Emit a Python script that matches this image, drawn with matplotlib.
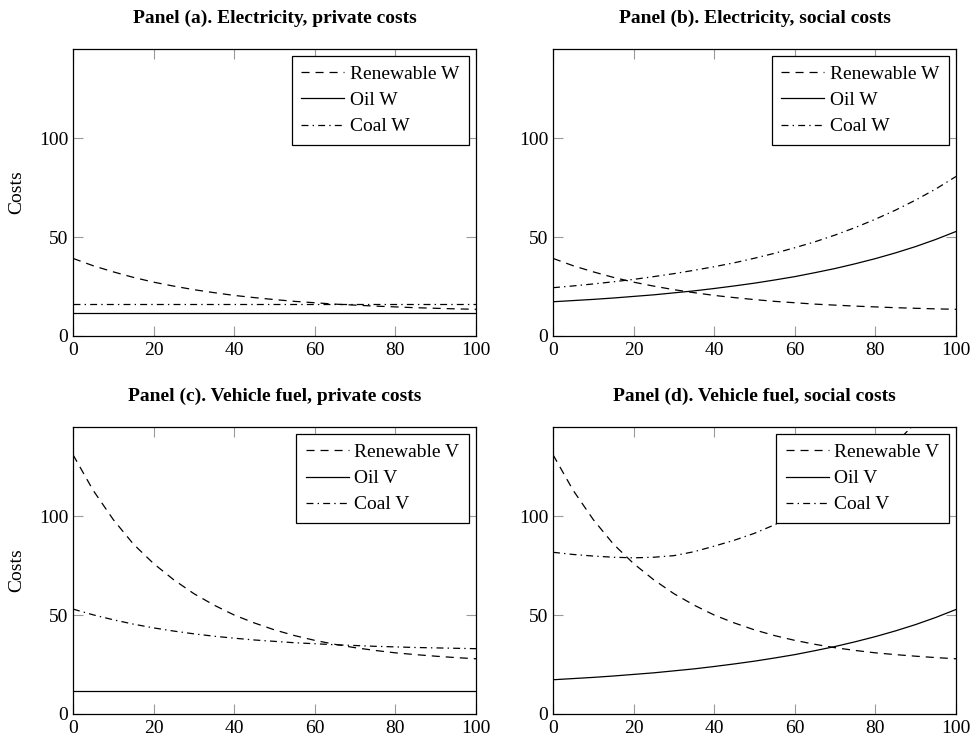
import matplotlib
matplotlib.use("Agg")
import matplotlib.pyplot as plt

plt.rcParams['font.family'] = ['Liberation Serif', 'DejaVu Serif']
plt.rcParams['lines.scale_dashes'] = False

# ---- data ----
x = [0, 5, 10, 15, 20, 25, 30, 35, 40, 45, 50, 55, 60, 65, 70, 75, 80, 85, 90, 95, 100]

renewable_w = [39.2, 35.5, 32.4, 29.6, 27.2, 25.2, 23.4, 21.9, 20.5, 19.4, 18.4,
               17.5, 16.8, 16.1, 15.6, 15.1, 14.7, 14.3, 14.0, 13.7, 13.5]
oil_w_private = [11.8] * 21
coal_w_private = [16.0] * 21
oil_social = [17.3, 17.9, 18.5, 19.2, 20.0, 20.8, 21.8, 22.8, 24.0, 25.3, 26.7,
              28.3, 30.0, 32.0, 34.1, 36.5, 39.1, 42.0, 45.2, 48.8, 52.8]
coal_w_social = [24.4, 25.3, 26.3, 27.4, 28.6, 30.0, 31.5, 33.2, 35.0, 37.0, 39.3,
                 41.8, 44.6, 47.6, 51.0, 54.8, 59.0, 63.6, 68.7, 74.3, 80.6]

renewable_v = [131.0, 113.0, 98.2, 85.8, 76.0, 67.8, 60.8, 55.0, 50.0, 46.0, 42.5,
               39.6, 37.2, 35.2, 33.5, 32.1, 30.9, 30.0, 29.2, 28.5, 27.9]
oil_v_private = [11.7] * 21
coal_v_private = [53.0, 50.1, 47.6, 45.4, 43.5, 41.9, 40.5, 39.3, 38.3, 37.4, 36.7,
                  36.0, 35.5, 35.0, 34.6, 34.2, 33.9, 33.6, 33.4, 33.2, 33.0]
coal_v_social = [81.7, 80.6, 79.8, 79.2, 78.9, 79.2, 80.0, 82.0, 84.8, 87.8, 91.3,
                 95.6, 100.6, 106.2, 112.4, 119.5, 127.5, 136.8, 147.2, 158.8, 171.5]

titles = ["Panel (a). Electricity, private costs",
          "Panel (b). Electricity, social costs",
          "Panel (c). Vehicle fuel, private costs",
          "Panel (d). Vehicle fuel, social costs"]
xticks = [0, 20, 40, 60, 80, 100]
yticks = [0, 50, 100]

panels = [
    (["Renewable W", "Oil W", "Coal W"], [renewable_w, oil_w_private, coal_w_private]),
    (["Renewable W", "Oil W", "Coal W"], [renewable_w, oil_social, coal_w_social]),
    (["Renewable V", "Oil V", "Coal V"], [renewable_v, oil_v_private, coal_v_private]),
    (["Renewable V", "Oil V", "Coal V"], [renewable_v, oil_social, coal_v_social]),
]

styles = [(0, (5.8, 4.3)), '-', (0, (5.0, 3.0, 1.0, 3.0))]

W, H = 973, 739
fig = plt.figure(figsize=(W / 100, H / 100), dpi=100)

boxes = [(73, 49, 476, 336), (553, 49, 956, 336),
         (73, 427, 476, 714), (553, 427, 956, 714)]

FS = 14
for i, (box, (labels, series)) in enumerate(zip(boxes, panels)):
    l, t, r, b = box
    ax = fig.add_axes([l / W, (H - b) / H, (r - l) / W, (b - t) / H])
    for lab, ys, ls in zip(labels, series, styles):
        ax.plot(x, ys, color='black', linestyle=ls, linewidth=0.9, label=lab)
    ax.set_xlim(0, 100)
    ax.set_ylim(0, 145)
    ax.set_xticks(xticks)
    ax.set_yticks(yticks)
    ax.tick_params(direction='in', top=True, right=True, length=7, width=0.8,
                   color='#9a9a9a', labelsize=FS, labelcolor='black')
    ax.tick_params(axis='y', pad=3.5)
    ax.tick_params(axis='x', pad=4)
    for s in ax.spines.values():
        s.set_linewidth(0.9)
        s.set_color('black')
    ax.set_title(titles[i], fontsize=FS, fontweight='bold', pad=19)
    if i % 2 == 0:
        ax.set_ylabel("Costs", fontsize=FS, labelpad=10)
    leg = ax.legend(loc='upper right', fontsize=FS, frameon=True, fancybox=False,
                    edgecolor='black', framealpha=1, borderaxespad=0.35,
                    handlelength=2.2, handletextpad=0.3, labelspacing=0.44,
                    borderpad=0.5)
    leg.get_frame().set_linewidth(0.9)

fig.savefig("out.png", dpi=100)
